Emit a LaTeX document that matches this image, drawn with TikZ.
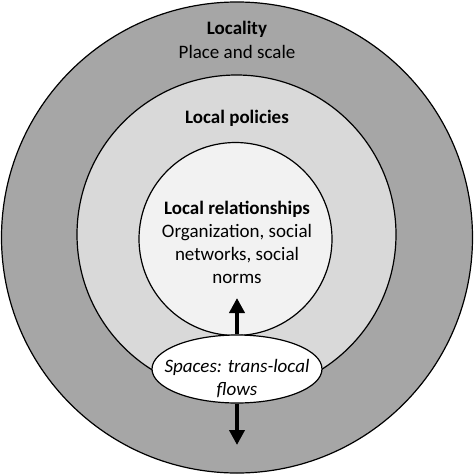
\documentclass[tikz,border=0pt]{standalone}
\usepackage{fontspec}
\setmainfont{Carlito}
\usetikzlibrary{arrows.meta,shapes.geometric}
\definecolor{ringout}{HTML}{A6A6A6}
\definecolor{ringmid}{HTML}{D9D9D9}
\definecolor{ringin}{HTML}{F2F2F2}
\tikzset{
  ring/.style={draw=black, line width=1.2pt},
  lbl/.style={anchor=base, inner sep=0pt, font=\fontsize{19}{23}\selectfont},
  flowarrow/.style={line width=4pt, -{Triangle[width=15pt,length=15pt]}}
}
\begin{document}
\begin{tikzpicture}[x=1pt,y=-1pt]
\useasboundingbox (0,0) rectangle (474,474);
\fill[white] (0,0) rectangle (474,474);
\draw[ring, fill=ringout] (237,237.5) circle (235.5);
\draw[ring, fill=ringmid] (236.5,234.5) circle (159.5);
\draw[ring, fill=ringin] (235.5,239) circle (96.5);
\node[ring, ellipse, fill=white, minimum width=170pt, minimum height=68pt, inner sep=0pt] (sp) at (237,369) {};
\coordinate (uptip) at (237,298);
\coordinate (downtip) at (237,445);
\draw[flowarrow] (sp.north) -- (uptip);
\draw[flowarrow] (sp.south) -- (downtip);
\node[lbl] (l1) at (237,34) {\bfseries Locality};
\node[lbl] (l2) at (237,58) {Place and scale};
\node[lbl] (p1) at (237,123) {\bfseries Local policies};
\node[lbl] (r1) at (237,214) {\bfseries Local relationships};
\node[lbl] (r2) at (237,237) {Organization, social};
\node[lbl] (r3) at (237,260) {networks, social};
\node[lbl] (r4) at (237,283) {norms};
\node[lbl] (s1) at (237,372) {\itshape Spaces: trans-local};
\node[lbl] (s2) at (237,395) {\itshape flows};
\end{tikzpicture}
\end{document}
